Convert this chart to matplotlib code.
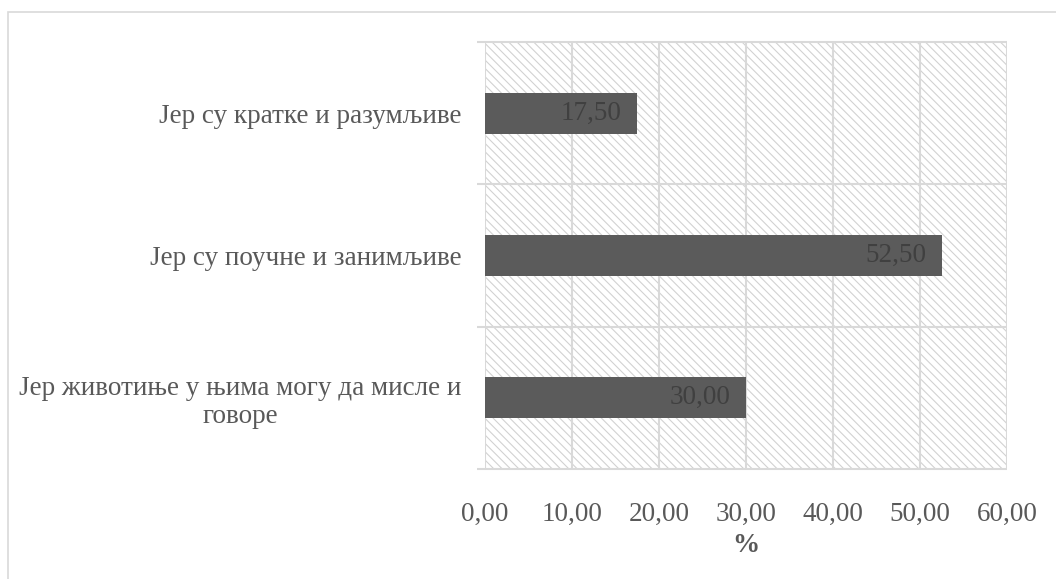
import matplotlib
matplotlib.use('Agg')
import matplotlib.pyplot as plt
from matplotlib.patches import Rectangle
from matplotlib.ticker import FixedLocator, FuncFormatter

# Податке редом одоздо нагоре, као у Excel-у
categories = ['Јер животиње у њима могу да мисле и\nговоре',
              'Јер су поучне и занимљиве',
              'Јер су кратке и разумљиве']
values = [30.00, 52.50, 17.50]
x_ticks = [0, 10, 20, 30, 40, 50, 60]
x_label = '%'

plt.rcParams['font.family'] = ['Liberation Serif', 'DejaVu Serif']
plt.rcParams['hatch.linewidth'] = 0.8

W, H = 1056, 579
fig = plt.figure(figsize=(W / 100, H / 100), dpi=100)

# tanak okvir oko grafikona (vidljiv samo levo i gore)
fig.patches.append(Rectangle((8 / W, -0.1), 1.2, 1 - 12 / H + 0.1,
                             transform=fig.transFigure, fill=False,
                             edgecolor='#d9d9d9', linewidth=1.2))

ax = fig.add_axes([485 / W, 1 - 469 / H, 522 / W, 427 / H])
ax.set_xlim(0, 60)
ax.set_ylim(-0.5, len(categories) - 0.5)

# šrafirana pozadina
ax.add_patch(Rectangle((0, 0), 1, 1, transform=ax.transAxes, fill=False,
                       hatch='\\\\\\\\', edgecolor='#d2d2d2', linewidth=0, zorder=0))

pos = list(range(len(categories)))
ax.barh(pos, values, height=0.29, color='#5b5b5b', zorder=3)

for y, v in zip(pos, values):
    ax.annotate(f'{v:.2f}'.replace('.', ','), xy=(v, y), xytext=(-11, 0),
                textcoords='offset points', ha='right', va='center',
                fontsize=19.5, color='#404040', zorder=4)

for s in ax.spines.values():
    s.set_visible(False)

# x osa
ax.xaxis.set_major_locator(FixedLocator(x_ticks))
ax.xaxis.set_major_formatter(FuncFormatter(lambda v, p: f'{v:.2f}'.replace('.', ',')))
ax.tick_params(axis='x', length=0, pad=24, labelsize=19.5, labelcolor='#595959')
ax.grid(axis='x', color='#d9d9d9', linewidth=1.5, zorder=1)
ax.set_xlabel(x_label, fontsize=19.5, fontweight='bold', color='#595959', labelpad=4)

# y osa: linije na granicama kategorija (sa crticom levo), natpisi u sredini
bounds = [p - 0.5 for p in pos] + [pos[-1] + 0.5]
ax.hlines(bounds, -0.92, 60, color='#d9d9d9', linewidth=1.5, zorder=1, clip_on=False)
ax.yaxis.set_major_locator(FixedLocator(pos))
ax.set_yticklabels(categories)
ax.tick_params(axis='y', length=0, pad=17, labelsize=19.5, labelcolor='#595959')
for lbl in ax.get_yticklabels():
    lbl.set_multialignment('center')
    lbl.set_linespacing(1.15)

fig.savefig('out.png', dpi=100)
